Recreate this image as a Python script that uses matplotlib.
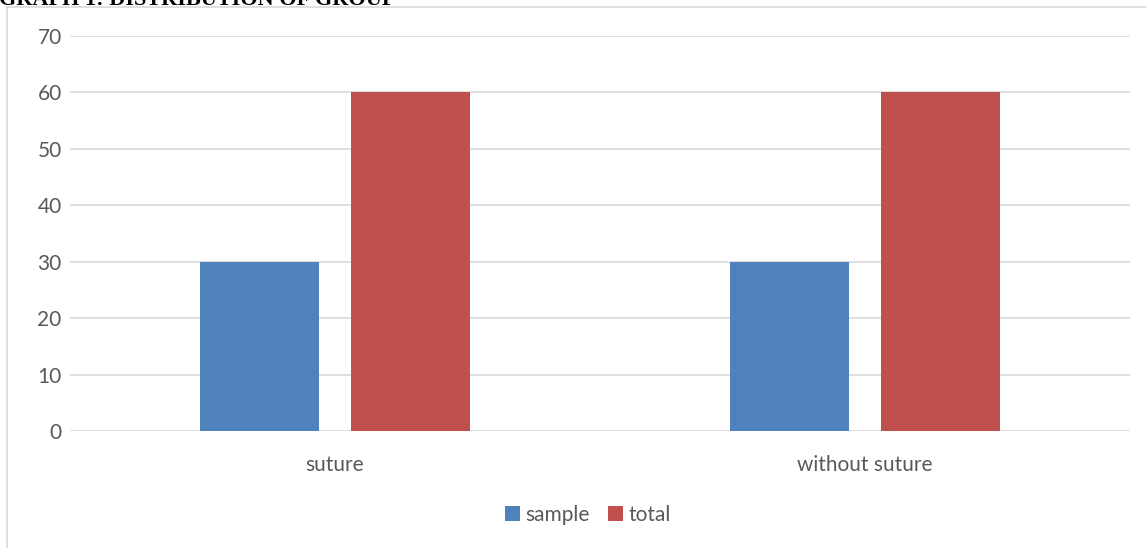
import matplotlib
matplotlib.use("Agg")
import matplotlib.pyplot as plt
from matplotlib.patches import Rectangle
import numpy as np

categories = ["suture", "without suture"]
sample = [30, 30]
total = [60, 60]
series_names = ["sample", "total"]
yticks = [0, 10, 20, 30, 40, 50, 60, 70]

W, H = 1146, 548
fig = plt.figure(figsize=(W / 100, H / 100), dpi=100)
plt.rcParams['font.family'] = ['Lato', 'DejaVu Sans']

# chart border (runs off the right and bottom edge)
fig.patches.append(Rectangle((7 / W, -0.1), 1.2, 1 - 7 / H + 0.1, transform=fig.transFigure,
                             fill=False, edgecolor="#d9d9d9", linewidth=1.2))

# cut-off title above the chart
fig.text(-0.001, 1 + 10 / H, "GRAPH 1: DISTRIBUTION OF GROUP", family="Liberation Serif",
         fontweight="bold", fontsize=16, va="top", ha="left", color="black")

ax = fig.add_axes([70 / W, 1 - 431 / H, 1060 / W, 395 / H])
x = np.arange(len(categories))
bw = 0.2245
gap = 0.06
ax.bar(x - (bw + gap) / 2, sample, bw, color="#4F81BD", label=series_names[0], zorder=3)
ax.bar(x + (bw + gap) / 2, total, bw, color="#C0504D", label=series_names[1], zorder=3)

ax.set_xlim(-0.5, 1.5)
ax.set_ylim(0, 70)
ax.set_yticks(yticks)
ax.set_xticks(x)
ax.set_xticklabels(categories)
ax.grid(axis="y", color="#d9d9d9", linewidth=1.2, zorder=0)
for s in ax.spines.values():
    s.set_visible(False)
ax.tick_params(axis="both", length=0, labelsize=15, labelcolor="#595959")
ax.tick_params(axis="y", pad=6)
ax.tick_params(axis="x", pad=17)

fig.legend(loc="center", bbox_to_anchor=(588 / W, 1 - 515 / H), ncol=2, frameon=False,
           fontsize=15, labelcolor="#595959", handlelength=0.7, handleheight=0.7,
           handletextpad=0.25, columnspacing=0.9)

fig.savefig("out.png", dpi=100)
